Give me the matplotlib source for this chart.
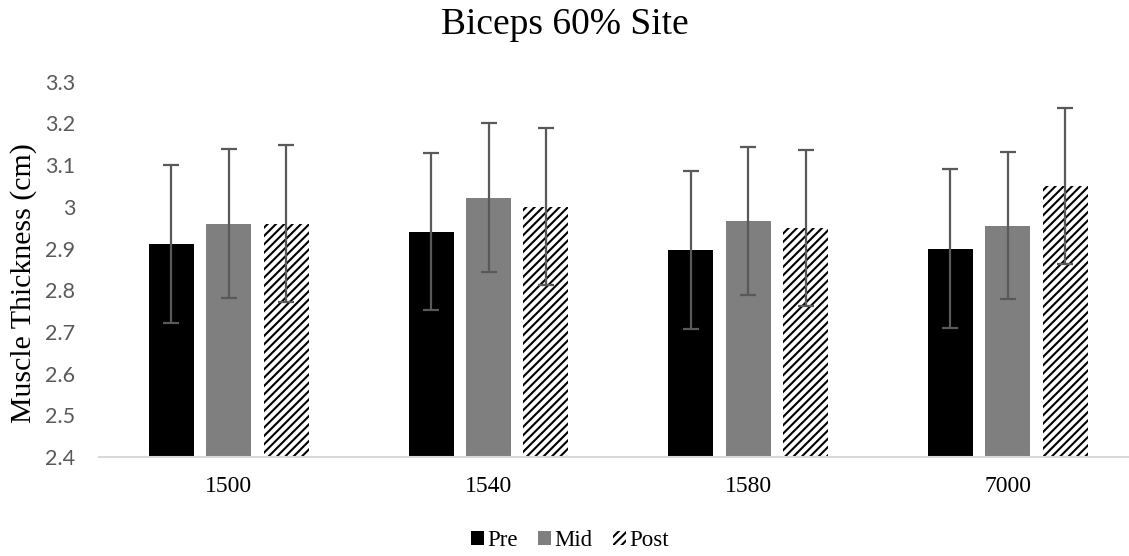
import matplotlib
matplotlib.use("Agg")
import matplotlib.pyplot as plt
import numpy as np

categories = ["1500", "1540", "1580", "7000"]
series = ["Pre", "Mid", "Post"]
pre = [2.911, 2.940, 2.896, 2.900]
mid = [2.960, 3.022, 2.966, 2.955]
post = [2.960, 3.000, 2.950, 3.050]
pre_err = [0.190, 0.188, 0.190, 0.190]
mid_err = [0.178, 0.178, 0.177, 0.176]
post_err = [0.188, 0.188, 0.187, 0.188]
yticks = [2.4, 2.5, 2.6, 2.7, 2.8, 2.9, 3.0, 3.1, 3.2, 3.3]
yticklabels = ["2.4", "2.5", "2.6", "2.7", "2.8", "2.9", "3", "3.1", "3.2", "3.3"]

plt.rcParams['hatch.linewidth'] = 1.5
plt.rcParams['hatch.color'] = 'black'

fig = plt.figure(figsize=(11.29, 5.56), dpi=100)
ax = fig.add_axes([0.0877, 0.178, 0.920, 0.675])

x = np.arange(len(categories))
w = 0.173
off = 0.221
ekw = dict(ecolor='#595959', elinewidth=1.6, capsize=5.8, capthick=1.6)
serif = 'Liberation Serif'

b1 = ax.bar(x - off, [v - 2.4 for v in pre], w, bottom=2.4, color='black', label='Pre',
            yerr=pre_err, error_kw=ekw)
b2 = ax.bar(x, [v - 2.4 for v in mid], w, bottom=2.4, color='#7f7f7f', label='Mid',
            yerr=mid_err, error_kw=ekw)
b3 = ax.bar(x + off, [v - 2.4 for v in post], w, bottom=2.4, color='white', edgecolor='black',
            linewidth=0, hatch='////', label='Post', yerr=post_err, error_kw=ekw)

ax.set_xlim(-0.5, len(categories) - 0.5)
ax.set_ylim(2.4, 3.3)
ax.set_yticks(yticks)
ax.set_yticklabels(yticklabels, fontsize=15.5, color='#595959', family='Lato')
ax.set_xticks(x)
ax.set_xticklabels(categories, fontsize=17, family=serif)
ax.tick_params(axis='both', length=0)
ax.tick_params(axis='y', pad=17)
ax.tick_params(axis='x', pad=14)
for s in ['top', 'right', 'left']:
    ax.spines[s].set_visible(False)
ax.spines['bottom'].set_color('#d9d9d9')
ax.spines['bottom'].set_linewidth(1.5)

ax.set_ylabel("Muscle Thickness (cm)", fontsize=21.5, family=serif, labelpad=6)
ax.yaxis.set_label_coords(-0.060, 0.464)
fig.text(0.5, 0.955, "Biceps 60% Site", ha='center', va='center', fontsize=27, family=serif)

leg = fig.legend(handles=[b1, b2, b3], labels=series, loc='center', bbox_to_anchor=(0.505, 0.027),
                 ncol=3, frameon=False, prop={'family': serif, 'size': 16.5},
                 handlelength=0.55, handleheight=0.55, handletextpad=0.15, columnspacing=0.9)

fig.savefig("out.png", dpi=100)
